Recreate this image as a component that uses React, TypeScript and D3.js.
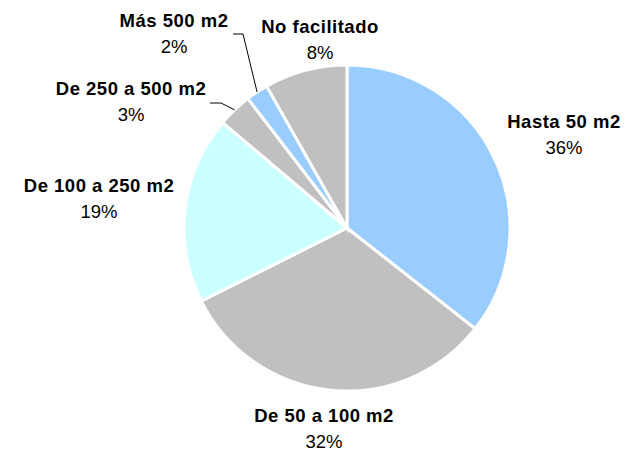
import React from "react";
import * as d3 from "d3";

const categories = ["Hasta 50 m2", "De 50 a 100 m2", "De 100 a 250 m2", "De 250 a 500 m2", "Más 500 m2", "No facilitado"];
const values = [35.6, 32.0, 18.6, 3.4, 2.2, 8.2];
const percentLabels = ["36%", "32%", "19%", "3%", "2%", "8%"];
const colors = ["#99CCFF", "#C0C0C0", "#CCFFFF", "#C0C0C0", "#99CCFF", "#C0C0C0"];

// label layout (center x, baseline of first line), and leader elbow points
const labelPos: [number, number][] = [
  [564, 128],
  [324, 422],
  [99, 192],
  [131, 95],
  [174, 27],
  [320, 33],
];
const leaders: ([number, number][] | null)[] = [
  null,
  null,
  null,
  [[210, 103], [221, 103]],
  [[233, 34], [243, 34]],
  null,
];

export default function App() {
  const W = 631, H = 452;
  const cx = 347, cy = 228, r = 163;
  const pie = d3.pie<number>().sort(null).value((d) => d);
  const arcs = pie(values);
  const arc = d3.arc<d3.PieArcDatum<number>>().innerRadius(0).outerRadius(r);
  const font = "'Liberation Sans', Arial, sans-serif";
  return (
    <svg width={W} height={H} style={{ position: "absolute", left: 0, top: 0 }}>
      <rect width={W} height={H} fill="#fff" />
      <g transform={`translate(${cx},${cy})`}>
        {arcs.map((a, i) => (
          <path key={i} d={arc(a) || ""} fill={colors[i]} stroke="#fff" strokeWidth={3} strokeLinejoin="miter" />
        ))}
      </g>
      {leaders.map((pts, i) => {
        if (!pts) return null;
        const a = arcs[i];
        const mid = (a.startAngle + a.endAngle) / 2;
        const end: [number, number] = [cx + r * Math.sin(mid), cy - r * Math.cos(mid)];
        const all = [...pts, end];
        return (
          <path key={i} d={d3.line()(all) || ""} fill="none" stroke="#000" strokeWidth={1} />
        );
      })}
      {categories.map((c, i) => (
        <g key={i} fontFamily={font} fill="#000" textAnchor="middle">
          <text x={labelPos[i][0]} y={labelPos[i][1]} fontSize={18.5} fontWeight="bold" letterSpacing={0.5}>{c}</text>
          <text x={labelPos[i][0]} y={labelPos[i][1] + 26} fontSize={18.5}>{percentLabels[i]}</text>
        </g>
      ))}
    </svg>
  );
}
